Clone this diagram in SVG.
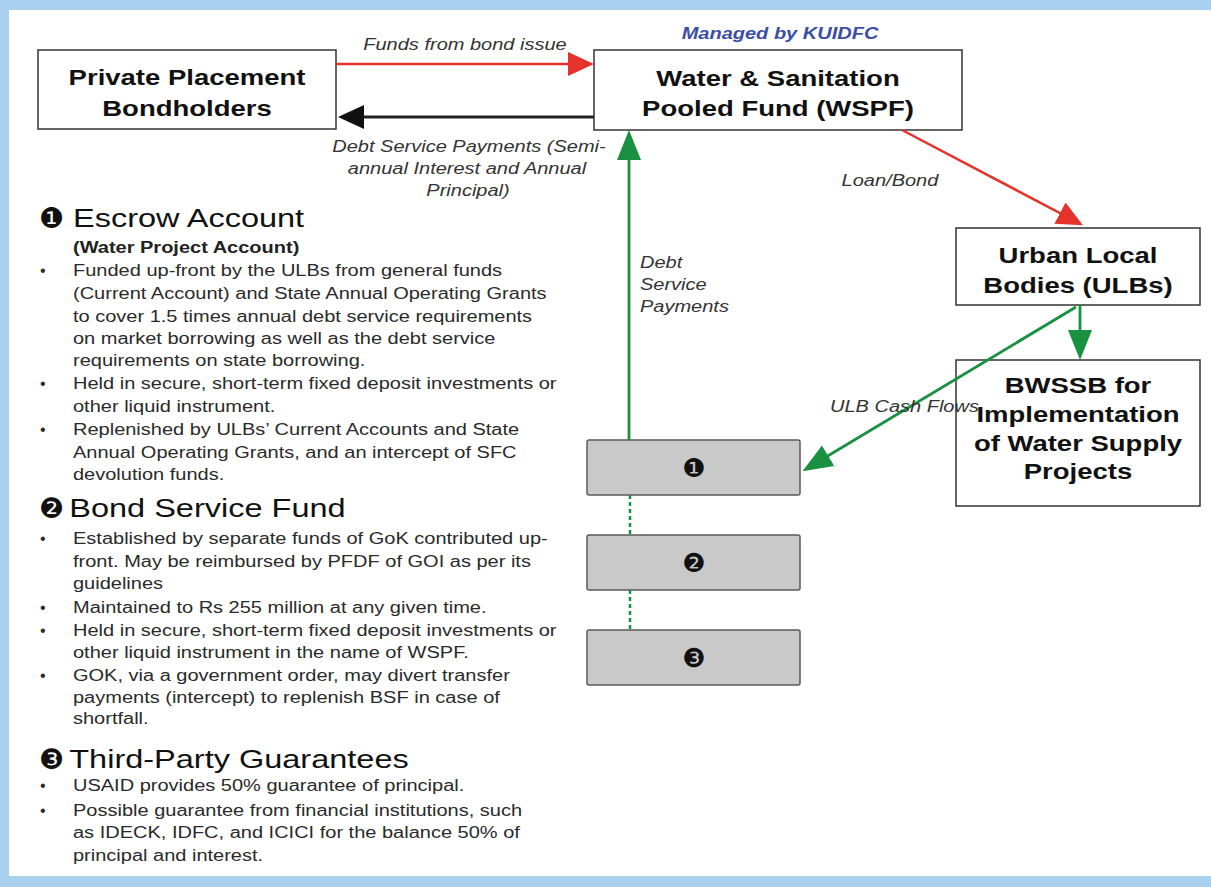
<svg xmlns="http://www.w3.org/2000/svg" width="1211" height="887" viewBox="0 0 1211 887">
<style>
text{font-family:"Liberation Sans",Arial,sans-serif}
.box{fill:#fff;stroke:#333;stroke-width:1.5}
.grey{fill:#c9c9c9;stroke:#5a5a5a;stroke-width:1.5}
.bt{font-size:22px;font-weight:bold;fill:#111;text-anchor:middle}
.lbl{font-size:16px;font-style:italic;fill:#333}
.body{font-size:16px;fill:#2a2a2a}
.hd{font-size:26px;fill:#111}
.sub{font-size:16px;font-weight:bold;fill:#222}
.num{font-family:"DejaVu Sans",sans-serif;fill:#111}
.blt{font-size:16px;fill:#2a2a2a}
.red{stroke:#e5322b;stroke-width:2.5;fill:none}
.blk{stroke:#222;stroke-width:3;fill:none}
.grn{stroke:#1a9140;stroke-width:2.8;fill:none}
.dash{stroke:#1a9140;stroke-width:2.5;stroke-dasharray:4 3;fill:none}
</style>
<defs>
<marker id="mr" markerUnits="userSpaceOnUse" markerWidth="26" markerHeight="26" refX="17" refY="13" orient="auto"><path d="M0,1 L26,13 L0,25 z" fill="#e5322b"/></marker>
<marker id="mk" markerUnits="userSpaceOnUse" markerWidth="26" markerHeight="26" refX="17" refY="13" orient="auto"><path d="M0,1 L26,13 L0,25 z" fill="#111"/></marker>
<marker id="mg" markerUnits="userSpaceOnUse" markerWidth="30" markerHeight="26" refX="20" refY="13" orient="auto"><path d="M0,1 L30,13 L0,25 z" fill="#1a9140"/></marker>
</defs>
<rect x="0" y="0" width="1211" height="887" fill="#a9d0ef"/>
<rect x="9" y="10" width="1202" height="866" fill="#fff"/>

<g id="bondholders">
<rect class="box" x="38" y="50" width="298" height="79"/>
<text class="bt" transform="translate(187,0) scale(1.25,1)" x="0" y="85">Private Placement</text>
<text class="bt" transform="translate(187,0) scale(1.25,1)" x="0" y="116">Bondholders</text>
</g>

<g id="wspf">
<text transform="translate(780,0) scale(1.25,1)" x="0" y="39" text-anchor="middle" style="font-size:16px;font-weight:bold;font-style:italic;fill:#3b4ea6">Managed by KUIDFC</text>
<rect class="box" x="594" y="50" width="368" height="80"/>
<text class="bt" transform="translate(778,0) scale(1.25,1)" x="0" y="86">Water &amp; Sanitation</text>
<text class="bt" transform="translate(778,0) scale(1.25,1)" x="0" y="116">Pooled Fund (WSPF)</text>
</g>

<g id="ulb">
<rect class="box" x="956" y="228" width="244" height="77"/>
<text class="bt" transform="translate(1078,0) scale(1.25,1)" x="0" y="263">Urban Local</text>
<text class="bt" transform="translate(1078,0) scale(1.25,1)" x="0" y="293">Bodies (ULBs)</text>
</g>

<g id="bwssb">
<rect class="box" x="956" y="360" width="244" height="146"/>
<text class="bt" transform="translate(1078,0) scale(1.25,1)" x="0" y="393">BWSSB for</text>
<text class="bt" transform="translate(1078,0) scale(1.25,1)" x="0" y="422">Implementation</text>
<text class="bt" transform="translate(1078,0) scale(1.25,1)" x="0" y="451">of Water Supply</text>
<text class="bt" transform="translate(1078,0) scale(1.25,1)" x="0" y="479">Projects</text>
</g>

<g id="account1">
<rect class="grey" x="587" y="440" width="213" height="55" rx="2"/>
<text class="num" x="694" y="477" text-anchor="middle" font-size="26">❶</text>
</g>
<g id="account2">
<rect class="grey" x="587" y="535" width="213" height="55" rx="2"/>
<text class="num" x="694" y="572" text-anchor="middle" font-size="26">❷</text>
</g>
<g id="account3">
<rect class="grey" x="587" y="630" width="213" height="55" rx="2"/>
<text class="num" x="694" y="667" text-anchor="middle" font-size="26">❸</text>
</g>

<g id="connectors">
<line class="red" x1="336" y1="64" x2="585" y2="64" marker-end="url(#mr)"/>
<line class="blk" x1="594" y1="117" x2="347" y2="117" marker-end="url(#mk)"/>
<line class="red" x1="902" y1="130" x2="1075" y2="221" marker-end="url(#mr)"/>
<line class="grn" x1="629" y1="440" x2="629" y2="140" marker-end="url(#mg)"/>
<line class="grn" x1="1080" y1="305" x2="1080" y2="350" marker-end="url(#mg)"/>
<line class="grn" x1="1076" y1="307" x2="811" y2="466" marker-end="url(#mg)"/>
<line class="dash" x1="630" y1="495" x2="630" y2="535"/>
<line class="dash" x1="630" y1="590" x2="630" y2="630"/>
<text class="lbl" transform="translate(465,0) scale(1.25,1)" x="0" y="50" text-anchor="middle">Funds from bond issue</text>
<text class="lbl" transform="translate(469,0) scale(1.25,1)" x="0" y="152" text-anchor="middle">Debt Service Payments (Semi-</text>
<text class="lbl" transform="translate(467,0) scale(1.25,1)" x="0" y="174" text-anchor="middle">annual Interest and Annual</text>
<text class="lbl" transform="translate(468,0) scale(1.25,1)" x="0" y="196" text-anchor="middle">Principal)</text>
<text class="lbl" transform="translate(890,0) scale(1.25,1)" x="0" y="186" text-anchor="middle">Loan/Bond</text>
<text class="lbl" transform="translate(640,0) scale(1.25,1)" x="0" y="268">Debt</text>
<text class="lbl" transform="translate(640,0) scale(1.25,1)" x="0" y="290">Service</text>
<text class="lbl" transform="translate(640,0) scale(1.25,1)" x="0" y="312">Payments</text>
<text class="lbl" transform="translate(830,0) scale(1.25,1)" x="0" y="412">ULB Cash Flows</text>
</g>

<g id="escrow-text">
<text class="num" x="39" y="228" font-size="28">❶</text>
<text class="blt" x="40" y="276">•</text>
<text class="blt" x="40" y="389">•</text>
<text class="blt" x="40" y="435">•</text>
<g transform="translate(73,0) scale(1.25,1)">
<text class="hd" x="0" y="227">Escrow Account</text>
<text class="sub" x="0" y="253">(Water Project Account)</text>
<text class="body" x="0" y="276">Funded up-front by the ULBs from general funds</text>
<text class="body" x="0" y="299">(Current Account) and State Annual Operating Grants</text>
<text class="body" x="0" y="322">to cover 1.5 times annual debt service requirements</text>
<text class="body" x="0" y="344">on market borrowing as well as the debt service</text>
<text class="body" x="0" y="366">requirements on state borrowing.</text>
<text class="body" x="0" y="389">Held in secure, short-term fixed deposit investments or</text>
<text class="body" x="0" y="412">other liquid instrument.</text>
<text class="body" x="0" y="435">Replenished by ULBs’ Current Accounts and State</text>
<text class="body" x="0" y="458">Annual Operating Grants, and an intercept of SFC</text>
<text class="body" x="0" y="480">devolution funds.</text>
</g>
</g>

<g id="bsf-text">
<text class="num" x="39" y="518" font-size="28">❷</text>
<text class="blt" x="40" y="544">•</text>
<text class="blt" x="40" y="613">•</text>
<text class="blt" x="40" y="636">•</text>
<text class="blt" x="40" y="681">•</text>
<g transform="translate(73,0) scale(1.25,1)">
<text class="hd" x="-3" y="517">Bond Service Fund</text>
<text class="body" x="0" y="544">Established by separate funds of GoK contributed up-</text>
<text class="body" x="0" y="567">front.  May be reimbursed by PFDF of GOI as per its</text>
<text class="body" x="0" y="589">guidelines</text>
<text class="body" x="0" y="613">Maintained to Rs 255 million at any given time.</text>
<text class="body" x="0" y="636">Held in secure, short-term fixed deposit investments or</text>
<text class="body" x="0" y="658">other liquid instrument in the name of WSPF.</text>
<text class="body" x="0" y="681">GOK, via a government order, may divert transfer</text>
<text class="body" x="0" y="703">payments (intercept) to replenish BSF in case of</text>
<text class="body" x="0" y="724">shortfall.</text>
</g>
</g>

<g id="guarantee-text">
<text class="num" x="39" y="769" font-size="28">❸</text>
<text class="blt" x="40" y="791">•</text>
<text class="blt" x="40" y="816">•</text>
<g transform="translate(73,0) scale(1.25,1)">
<text class="hd" x="-3" y="768">Third-Party Guarantees</text>
<text class="body" x="0" y="791">USAID provides 50% guarantee of principal.</text>
<text class="body" x="0" y="816">Possible guarantee from financial institutions, such</text>
<text class="body" x="0" y="838">as IDECK, IDFC, and ICICI for the balance 50% of</text>
<text class="body" x="0" y="861">principal and interest.</text>
</g>
</g>
</svg>
